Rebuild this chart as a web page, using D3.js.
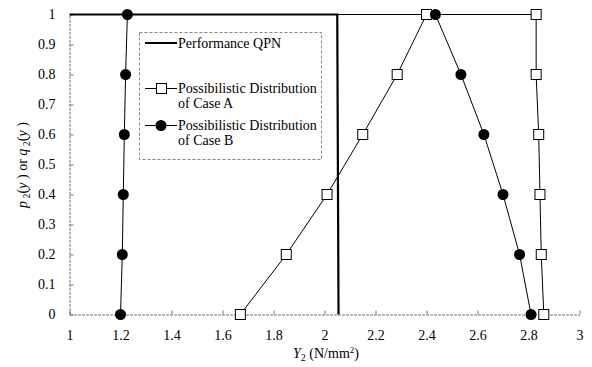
<!DOCTYPE html>
<html>
<head>
<meta charset="utf-8">
<script src="https://cdn.jsdelivr.net/npm/d3@7"></script>
<style>
  body { margin: 0; background: #fff; }
  svg { display: block; }
  svg text { font-family: "Liberation Serif", "Times New Roman", "DejaVu Serif", serif; fill: #000; }
</style>
</head>
<body>
<div id="container"></div>
<script>
//possibility levels shared by both distributions
var levels = [0, 0.2, 0.4, 0.6, 0.8, 1, 1, 0.8, 0.6, 0.4, 0.2, 0];
//case A (squares) Y2 values
var caseAx = [1.67, 1.85, 2.01, 2.15, 2.285, 2.4, 2.83, 2.83, 2.84, 2.845, 2.85, 2.86];
//case B (circles) Y2 values
var caseBx = [1.2, 1.207, 1.211, 1.215, 1.22, 1.227, 2.435, 2.535, 2.625, 2.7, 2.765, 2.81];
//performance QPN step
var qpnX = [1, 2.05, 2.055];
var qpnY = [1, 1, 0];
//tick labels
var xTicks = [1, 1.2, 1.4, 1.6, 1.8, 2, 2.2, 2.4, 2.6, 2.8, 3];
var yTicks = [0, 0.1, 0.2, 0.3, 0.4, 0.5, 0.6, 0.7, 0.8, 0.9, 1];

var width = 592, height = 367;
var svg = d3.select("#container").append("svg")
    .attr("width", width)
    .attr("height", height);

var x = d3.scaleLinear().domain([1, 3]).range([69.5, 579.5]);
var y = d3.scaleLinear().domain([0, 1]).range([314.5, 14.5]);

//axes - light and grey like the scan
var xAxis = svg.append("g")
    .attr("transform", "translate(0," + y(0) + ")")
    .call(d3.axisBottom(x).tickValues(xTicks).tickSizeInner(-4).tickSizeOuter(0).tickPadding(16)
        .tickFormat(d3.format("")));
var yAxis = svg.append("g")
    .attr("transform", "translate(" + x(1) + ",0)")
    .call(d3.axisLeft(y).tickValues(yTicks).tickSizeInner(-4).tickSizeOuter(0).tickPadding(14)
        .tickFormat(d3.format("")));

[xAxis, yAxis].forEach(function(g){
    g.attr("font-family", null);
    g.select(".domain").attr("stroke", "#777").attr("stroke-dasharray", "3,1");
    g.selectAll(".tick line").attr("stroke", "#777");
    g.selectAll(".tick text").style("font-size", "14px");
});

//performance QPN
var line = d3.line().x(function(d){ return x(d[0]); }).y(function(d){ return y(d[1]); });
svg.append("path")
    .datum(d3.zip(qpnX, qpnY))
    .attr("d", line)
    .attr("fill", "none")
    .attr("stroke", "#000")
    .attr("stroke-width", 2.2);

//case A
var dataA = d3.zip(caseAx, levels);
svg.append("path")
    .datum(dataA)
    .attr("d", line)
    .attr("fill", "none")
    .attr("stroke", "#000")
    .attr("stroke-width", 1);

//case B
var dataB = d3.zip(caseBx, levels);
svg.append("path")
    .datum(dataB)
    .attr("d", line)
    .attr("fill", "none")
    .attr("stroke", "#000")
    .attr("stroke-width", 1);

svg.selectAll(".sqA")
    .data(dataA)
    .enter()
    .append("rect")
    .attr("class", "sqA")
    .attr("x", function(d){ return x(d[0]) - 5; })
    .attr("y", function(d){ return y(d[1]) - 5; })
    .attr("width", 10)
    .attr("height", 10)
    .attr("fill", "#fff")
    .attr("stroke", "#000")
    .attr("stroke-width", 1);

svg.selectAll(".dotB")
    .data(dataB)
    .enter()
    .append("circle")
    .attr("class", "dotB")
    .attr("cx", function(d){ return x(d[0]); })
    .attr("cy", function(d){ return y(d[1]); })
    .attr("r", 5.5)
    .attr("fill", "#000");

//legend
var legend = svg.append("g");
legend.append("rect")
    .attr("x", 139.5).attr("y", 32.5)
    .attr("width", 182).attr("height", 127)
    .attr("fill", "#fff")
    .attr("stroke", "#888")
    .attr("stroke-dasharray", "3,2");

legend.append("line")
    .attr("x1", 145).attr("x2", 177).attr("y1", 43).attr("y2", 43)
    .attr("stroke", "#000").attr("stroke-width", 2);
legend.append("line")
    .attr("x1", 145).attr("x2", 177).attr("y1", 88.5).attr("y2", 88.5)
    .attr("stroke", "#000");
legend.append("rect")
    .attr("x", 156.5).attr("y", 83.5).attr("width", 10).attr("height", 10)
    .attr("fill", "#fff").attr("stroke", "#000");
legend.append("line")
    .attr("x1", 145).attr("x2", 177).attr("y1", 125.5).attr("y2", 125.5)
    .attr("stroke", "#000");
legend.append("circle")
    .attr("cx", 161).attr("cy", 125.5).attr("r", 5.5).attr("fill", "#000");

var legendText = [
    ["Performance QPN", 48],
    ["Possibilistic Distribution", 93],
    ["of Case A", 108],
    ["Possibilistic Distribution", 130],
    ["of Case B", 145]
];
legend.selectAll(".lt")
    .data(legendText)
    .enter()
    .append("text")
    .attr("x", 178)
    .attr("y", function(d){ return d[1]; })
    .style("font-size", "14px")
    .text(function(d){ return d[0]; });

//x axis title
var xt = svg.append("text")
    .attr("x", 326).attr("y", 358)
    .attr("text-anchor", "middle")
    .style("font-size", "14px");
xt.append("tspan").style("font-style", "italic").text("Y");
xt.append("tspan").attr("dy", 3).style("font-size", "10px").text("2");
xt.append("tspan").attr("dy", -3).text(" (N/mm");
xt.append("tspan").attr("dy", -5).style("font-size", "9px").text("2");
xt.append("tspan").attr("dy", 5).text(")");

//y axis title
var yt = svg.append("text")
    .attr("transform", "translate(27,165) rotate(-90)")
    .attr("text-anchor", "middle")
    .style("font-size", "14px");
yt.append("tspan").style("font-style", "italic").text("p");
yt.append("tspan").attr("dy", 3).style("font-size", "10px").text(" 2");
yt.append("tspan").attr("dy", -3).text("(");
yt.append("tspan").style("font-style", "italic").text("y");
yt.append("tspan").text(" ) or ");
yt.append("tspan").style("font-style", "italic").text("q");
yt.append("tspan").attr("dy", 3).style("font-size", "10px").text(" 2");
yt.append("tspan").attr("dy", -3).text("(");
yt.append("tspan").style("font-style", "italic").text("y");
yt.append("tspan").text(" )");
</script>
</body>
</html>
